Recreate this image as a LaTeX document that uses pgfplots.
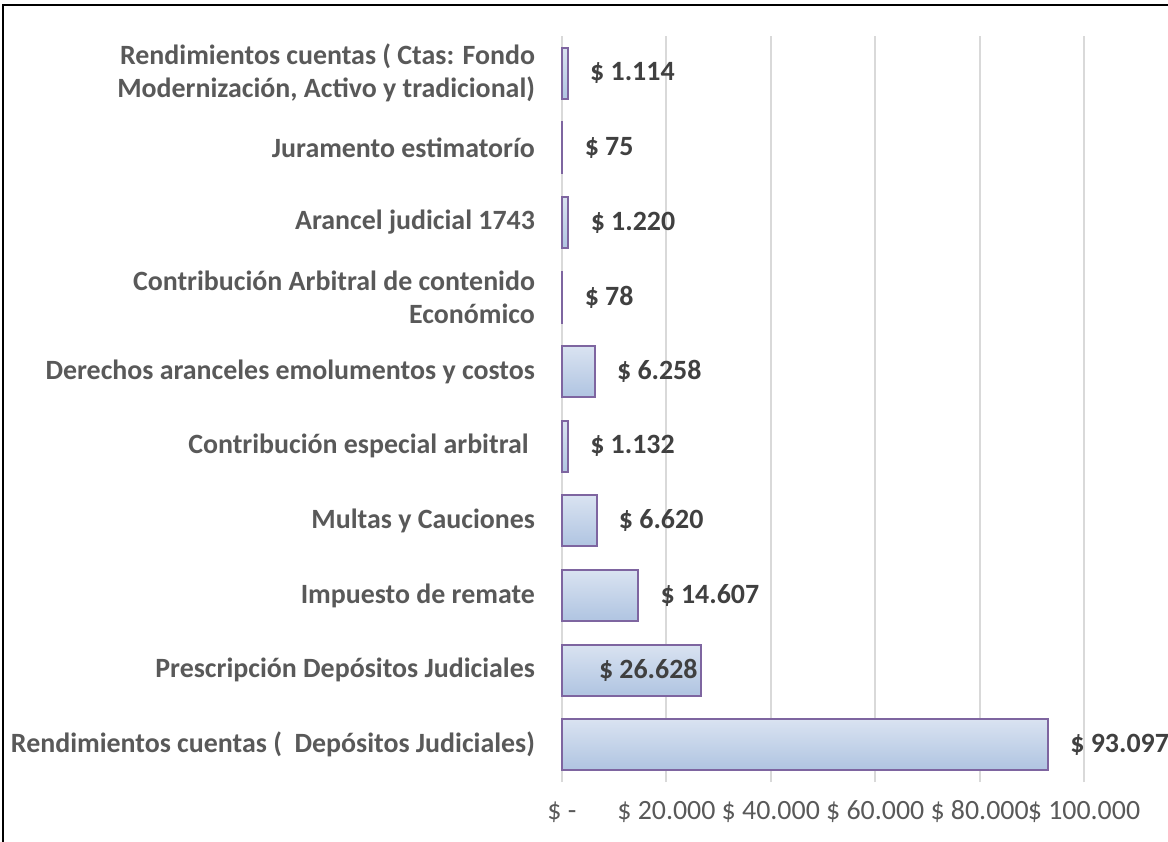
\documentclass[border=0pt]{standalone}
\usepackage{pgfplots}
\pgfplotsset{compat=1.18}
\usepackage{fontspec}
\setmainfont{Carlito}
\definecolor{cattext}{HTML}{595959}
\definecolor{valtext}{HTML}{404040}
\definecolor{gridc}{HTML}{D9D9D9}
\definecolor{barborder}{HTML}{7E65A0}
\definecolor{bartop}{HTML}{EEF2F9}
\definecolor{barmid}{HTML}{B2C6E2}
\definecolor{barbot}{HTML}{C2D3EA}
\pgfdeclareverticalshading{barshade}{100bp}{color(0bp)=(barbot); color(28bp)=(barmid); color(100bp)=(bartop)}
\pgfplotsset{mybar/.style={xbar, bar width=25.5bp, bar shift=0pt, draw=barborder, line width=1bp, shade, shading=barshade}}
\begin{document}
\begin{tikzpicture}
\path[use as bounding box] (-281bp,-30bp) rectangle (303bp,391bp);
\begin{axis}[
  at={(0,0)}, anchor=south west,
  scale only axis,
  width=261bp, height=373bp,
  xmin=0, xmax=100000,
  ymin=-0.5, ymax=9.5,
  axis line style={draw=none},
  major tick length=0pt,
  xmajorgrids, grid style={gridc, line width=1bp},
  xtick={0,20000,40000,60000,80000,100000},
  xticklabels={\$ -,\$ 20.000,\$ 40.000,\$ 60.000,\$ 80.000,\$ 100.000},
  xticklabel style={font=\fontsize{14}{16}\selectfont, text=cattext, anchor=center, yshift=-15bp, inner sep=1bp},
  ytick={0,...,9},
  yticklabels={
    {Rendimientos cuentas (\ \ Depósitos Judiciales)},
    {Prescripción Depósitos Judiciales},
    {Impuesto de remate},
    {Multas y Cauciones},
    {Contribución especial arbitral\ },
    {Derechos aranceles emolumentos y costos},
    {Contribución Arbitral de contenido\\Económico},
    {Arancel judicial 1743},
    {Juramento estimatorío},
    {Rendimientos cuentas ( Ctas: Fondo\\Modernización, Activo y tradicional)}
  },
  yticklabel style={font=\bfseries\fontsize{14}{16.5}\selectfont, text=cattext, align=right, xshift=-10bp},
  clip=false,
]
\addplot[mybar] coordinates {(93097,0)};
\addplot[mybar] coordinates {(26628,1)};
\addplot[mybar] coordinates {(14607,2)};
\addplot[mybar] coordinates {(6620,3)};
\addplot[mybar] coordinates {(1132,4)};
\addplot[mybar] coordinates {(6258,5)};
\addplot[mybar] coordinates {(78,6)};
\addplot[mybar] coordinates {(1220,7)};
\addplot[mybar] coordinates {(75,8)};
\addplot[mybar] coordinates {(1114,9)};
\addplot[draw=none, mark=none, nodes near coords, point meta=explicit symbolic,
  every node near coord/.append style={anchor=west, inner sep=1bp, xshift=10bp, font=\bfseries\fontsize{14}{16}\selectfont, text=valtext}]
  coordinates {(93097,0) [\$ 93.097] (14607,2) [\$ 14.607] (6620,3) [\$ 6.620] (1132,4) [\$ 1.132] (6258,5) [\$ 6.258] (78,6) [\$ 78] (1220,7) [\$ 1.220] (75,8) [\$ 75] (1114,9) [\$ 1.114]};
\addplot[draw=none, mark=none, nodes near coords, point meta=explicit symbolic,
  every node near coord/.append style={anchor=east, inner sep=1bp, xshift=-0.5bp, font=\bfseries\fontsize{14}{16}\selectfont, text=valtext}]
  coordinates {(26628,1) [\$ 26.628]};
\end{axis}
\draw[black, line width=1.3bp] (-279.5bp,-30bp) -- (-279.5bp,388.5bp) -- (303bp,388.5bp);
\end{tikzpicture}
\end{document}
